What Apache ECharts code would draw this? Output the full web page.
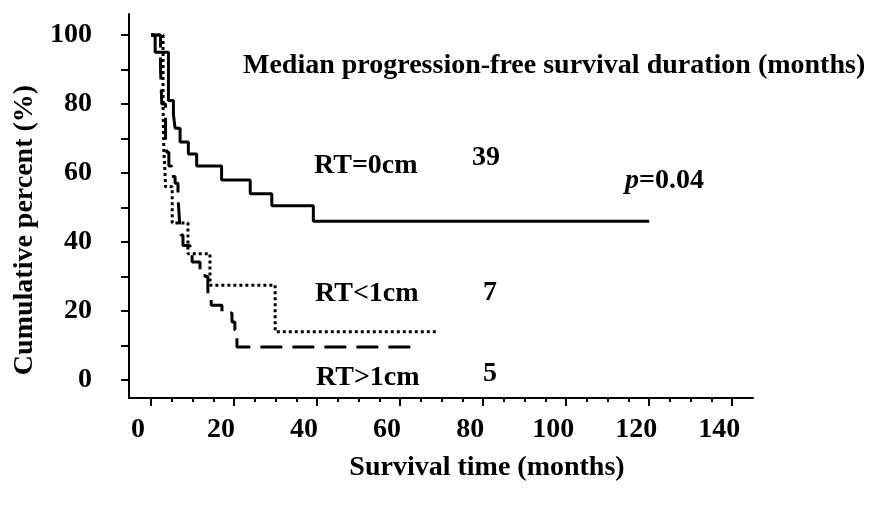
<!DOCTYPE html>
<html><head><meta charset="utf-8">
<script src="https://cdn.jsdelivr.net/npm/echarts@6/dist/echarts.min.js"></script>
<style>html,body{margin:0;padding:0;background:#fff}#c{width:871px;height:513px}</style>
</head><body><div id="c"></div>
<script>
// Kaplan-Meier step data: [month, cumulative percent]
const rt0 = [[0,100],[1.0,95],[4.2,81],[5.4,77],[5.8,73],[7.0,69],[9.0,65.5],[11.0,62],[17.0,58],[23.9,54],[29.1,50.5],[39.1,46],[120,46]];
const rtLt1 = [[0,100],[2.9,80],[3.1,66],[3.3,62],[3.5,56],[5.1,45.5],[8.9,36.6],[14.2,27.5],[29.9,14],[68.8,14]];
const rtGt1 = [[0,100],[2.3,90],[2.6,80],[3.5,70],[3.8,66],[4.3,62],[5.0,59],[5.8,57],[6.5,53],[6.9,45.5],[7.2,42],[7.7,39],[9.4,36.8],[9.9,34.2],[11.8,32],[13.0,30],[13.7,24],[14.5,21.7],[17.1,19.4],[19.5,16.8],[20.2,14.5],[20.7,9.6],[64.3,9.6]];
const xMajor = [0,20,40,60,80,100,120,140];
const xMinor = [5,10,15,25,30,35,45,50,55,65,70,75,85,90,95,105,110,115,125,130,135];
const yTicks = [0,10,20,30,40,50,60,70,80,90,100];
const yLabels = [0,20,40,60,80,100];
const medians = ['39','7','5'];

const FS = 28;
const FONT = 'bold ' + FS + 'px "Liberation Serif"';
const ff = 'Liberation Serif';
const chart = echarts.init(document.getElementById('c'));
const lineAx = {show:true, onZero:false, lineStyle:{color:'#000', width:2}};
chart.setOption({
  animation:false,
  grid:{left:129, right:118, top:14, bottom:115, containLabel:false},
  xAxis:[
    {type:'value', min:-5.3, max:145, position:'bottom', axisLine:lineAx, splitLine:{show:false},
     axisTick:{show:true, length:8, customValues:xMajor, lineStyle:{color:'#000', width:2}},
     axisLabel:{show:true, customValues:xMajor, margin:18, padding:[0,26,0,0], color:'#000', fontFamily:ff, fontWeight:'bold', fontSize:FS}},
    {type:'value', min:-5.3, max:145, position:'bottom', offset:0, axisLine:{show:false, onZero:false}, splitLine:{show:false},
     axisTick:{show:true, length:4, customValues:xMinor, lineStyle:{color:'#000', width:2}},
     axisLabel:{show:false}}
  ],
  yAxis:[
    {type:'value', min:-5.22, max:106.1, axisLine:lineAx, splitLine:{show:false},
     axisTick:{show:true, length:8, customValues:yTicks, lineStyle:{color:'#000', width:2}},
     axisLabel:{show:true, customValues:yLabels, margin:37, color:'#000', fontFamily:ff, fontWeight:'bold', fontSize:FS}}
  ],
  series:[
    {type:'line', step:'end', data:rt0, symbol:'none', lineStyle:{color:'#000', width:3}},
    {type:'line', step:'end', data:rtLt1, symbol:'none', lineStyle:{color:'#000', width:3, type:[3,3]}},
    {type:'line', step:'end', data:rtGt1, symbol:'none', lineStyle:{color:'#000', width:3, type:[22,10]}}
  ],
  graphic:[
    {type:'text', left:243, top:52, style:{text:'Median progression-free survival duration (months)', font:FONT, fill:'#000'}},
    {type:'text', left:314, top:152, style:{text:'RT=0cm', font:FONT, fill:'#000'}},
    {type:'text', left:472, top:144, style:{text:medians[0], font:FONT, fill:'#000'}},
    {type:'text', left:625, top:167, style:{text:'{i|p}=0.04', font:FONT, fill:'#000', rich:{i:{font:'italic bold ' + FS + 'px "Liberation Serif"', fill:'#000'}}}},
    {type:'text', left:315, top:280, style:{text:'RT<1cm', font:FONT, fill:'#000'}},
    {type:'text', left:483, top:279, style:{text:medians[1], font:FONT, fill:'#000'}},
    {type:'text', left:316, top:364, style:{text:'RT>1cm', font:FONT, fill:'#000'}},
    {type:'text', left:483, top:360, style:{text:medians[2], font:FONT, fill:'#000'}},
    {type:'text', x:487, y:468, style:{text:'Survival time (months)', font:FONT, fill:'#000', align:'center', verticalAlign:'middle'}},
    {type:'text', x:25, y:230, rotation:Math.PI/2, style:{text:'Cumulative percent (%)', font:FONT, fill:'#000', align:'center', verticalAlign:'middle'}}
  ]
});
</script></body></html>
